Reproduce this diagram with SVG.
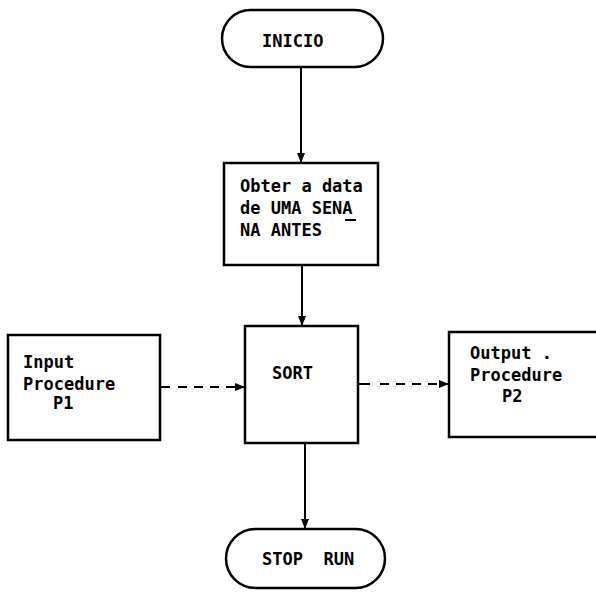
<svg xmlns="http://www.w3.org/2000/svg" width="596" height="592" viewBox="0 0 596 592">
<defs>
<marker id="arr" markerWidth="10" markerHeight="8" refX="9" refY="4" orient="auto" markerUnits="userSpaceOnUse">
<path d="M0,0 L10,4 L0,8 Z" fill="#000"/>
</marker>
<style>
.box{fill:#fff;stroke:#000;stroke-width:2.5}
.t{font-family:"DejaVu Sans Mono","Liberation Mono",monospace;font-size:17px;font-weight:bold;fill:#000}
.ln{stroke:#000;stroke-width:2;fill:none}
.dl{stroke:#000;stroke-width:2;fill:none;stroke-dasharray:9 7}
</style>
</defs>
<rect width="596" height="592" fill="#fff"/>
<g id="connectors">
<line class="ln" x1="301" y1="67" x2="301" y2="162" marker-end="url(#arr)"/>
<line class="ln" x1="302" y1="265" x2="302" y2="325" marker-end="url(#arr)"/>
<line class="ln" x1="305" y1="443" x2="305" y2="528" marker-end="url(#arr)"/>
<line class="ln" x1="160" y1="387" x2="170" y2="387"/>
<line class="dl" x1="178" y1="387" x2="244" y2="387" marker-end="url(#arr)"/>
<line class="ln" x1="358" y1="384" x2="370" y2="384"/>
<line class="dl" x1="380" y1="384" x2="448" y2="384" marker-end="url(#arr)"/>
</g>
<g id="inicio">
<rect class="box" x="222" y="10" width="161" height="57" rx="28.5"/>
<text class="t" x="262" y="47">INICIO</text>
</g>
<g id="obter">
<rect class="box" x="224" y="163" width="154" height="102"/>
<text class="t" x="240" y="192">Obter a data</text>
<text class="t" x="240" y="214">de UMA SENA</text>
<text class="t" x="240" y="236">NA ANTES</text>
<line x1="345" y1="220" x2="356" y2="220" stroke="#000" stroke-width="2"/>
</g>
<g id="sort">
<rect class="box" x="245" y="326" width="113" height="117"/>
<text class="t" x="272" y="379">SORT</text>
</g>
<g id="input">
<rect class="box" x="8" y="335" width="152" height="105"/>
<text class="t" x="23" y="368">Input</text>
<text class="t" x="23" y="390">Procedure</text>
<text class="t" x="53" y="409">P1</text>
</g>
<g id="output">
<rect class="box" x="449" y="332" width="152" height="105"/>
<text class="t" x="470" y="359">Output .</text>
<text class="t" x="470" y="381">Procedure</text>
<text class="t" x="502" y="402">P2</text>
</g>
<g id="stop">
<rect class="box" x="226" y="529" width="159" height="59" rx="29.5"/>
<text class="t" x="262" y="565" xml:space="preserve">STOP  RUN</text>
</g>
</svg>
